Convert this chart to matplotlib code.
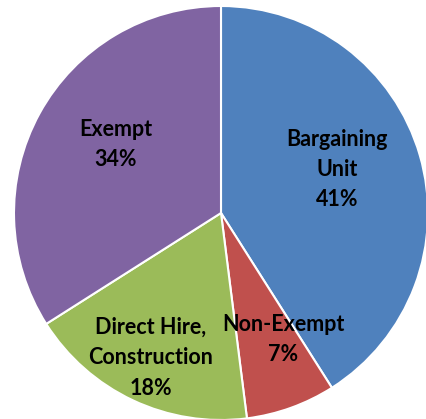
import matplotlib
matplotlib.use("Agg")
from matplotlib import pyplot as plt
import numpy as np

# data
labels = ["Bargaining\nUnit", "Non-Exempt", "Direct Hire,\nConstruction", "Exempt"]
shares = [41, 7, 18, 34]
colors = ["#4F81BD", "#C0504D", "#9BBB59", "#8064A2"]

# where each label sits (pie units, from the centre)
label_xy = [(0.56, 0.21), (0.30, -0.61), (-0.34, -0.70), (-0.51, 0.33)]

W, H = 427, 419
cx, cy, r = 221, 213, 207

fig = plt.figure(figsize=(W / 100, H / 100), dpi=100)
ax = fig.add_axes([0, 0, 1, 1])
ax.pie(shares, colors=colors, startangle=90, counterclock=False,
       radius=1, wedgeprops=dict(edgecolor="white", linewidth=1.5))
ax.set_xlim(-cx / r, (W - cx) / r)
ax.set_ylim(-(H - cy) / r, cy / r)
ax.set_aspect("auto")
ax.axis("off")

for lab, val, (x, y) in zip(labels, shares, label_xy):
    ax.text(x, y, f"{lab}\n{val}%", ha="center", va="center",
            fontsize=15.5, fontweight="bold", family="Lato",
            linespacing=1.55, color="black")

fig.savefig("out.png", dpi=100)
